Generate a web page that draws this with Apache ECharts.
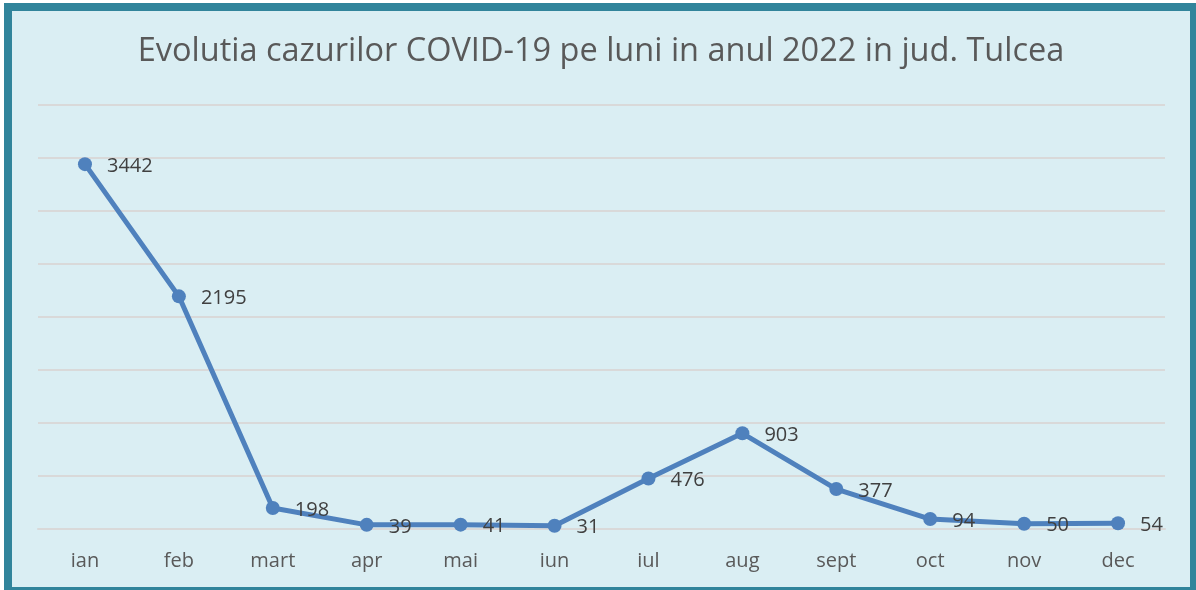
<!DOCTYPE html>
<html lang="ro">
<head>
    <meta charset="UTF-8">
    <title>Evolutia cazurilor COVID-19 - Tulcea</title>
    <style>
        *{
            margin: 0;
            padding: 0;
        }
        html,body{
            width: 1196px;
            height: 590px;
            background: #ffffff;
            overflow: hidden;
        }
        #frame{
            position: absolute;
            left: 4px;
            top: 3px;
            width: 1178px;
            height: 576px;
            border: 8px solid #31849B;
            border-right-width: 6px;
            background: #DAEEF3;
        }
        #chart{
            width: 100%;
            height: 100%;
        }
    </style>
    <script src="https://cdn.jsdelivr.net/npm/echarts@6/dist/echarts.min.js"></script>
</head>
<body>
<div id="frame"><div id="chart"></div></div>
<script>
    // luni si cazuri
    const months = ['ian', 'feb', 'mart', 'apr', 'mai', 'iun', 'iul', 'aug', 'sept', 'oct', 'nov', 'dec'];
    const cases = [3442, 2195, 198, 39, 41, 31, 476, 903, 377, 94, 50, 54];
    const titleText = 'Evolutia cazurilor COVID-19 pe luni in anul 2022 in jud. Tulcea';

    const myChart = echarts.init(document.getElementById('chart'));
    myChart.setOption({
        backgroundColor: 'transparent',
        textStyle: {fontFamily: 'Open Sans'},
        title: {
            text: titleText,
            left: 'center',
            top: 19,
            textStyle: {
                fontSize: 32.5,
                fontWeight: 'normal',
                color: '#595959',
                fontFamily: 'Open Sans'
            }
        },
        grid: {
            left: 26,
            right: 25,
            top: 94,
            bottom: 58
        },
        xAxis: {
            type: 'category',
            data: months,
            axisLine: {lineStyle: {color: '#D9D9D9', width: 2}},
            axisTick: {show: false},
            axisLabel: {fontSize: 20, color: '#595959', margin: 22}
        },
        yAxis: {
            type: 'value',
            min: 0,
            max: 4000,
            interval: 500,
            axisLine: {show: false},
            axisTick: {show: false},
            axisLabel: {show: false},
            splitLine: {lineStyle: {color: '#D9D9D9', width: 2}}
        },
        series: [{
            type: 'line',
            data: cases,
            symbol: 'circle',
            symbolSize: 14,
            lineStyle: {color: '#4F81BD', width: 5},
            itemStyle: {color: '#4F81BD'},
            label: {
                show: true,
                position: 'right',
                distance: 15,
                offset: [0, 2],
                fontSize: 20,
                color: '#404040'
            }
        }]
    });
</script>
</body>
</html>
